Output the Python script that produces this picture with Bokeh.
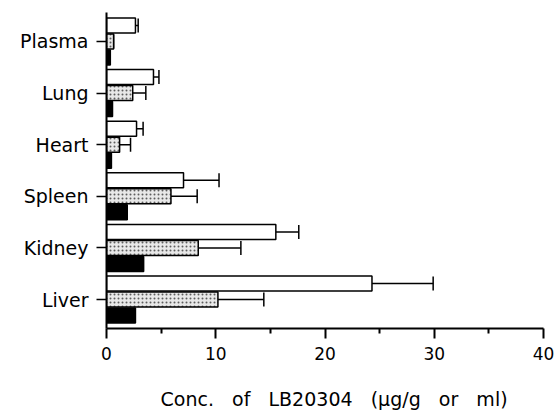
from bokeh.plotting import figure
from bokeh.models import ColumnDataSource, FactorRange, Whisker, TeeHead, Range1d, FixedTicker
from bokeh.transform import dodge
from bokeh.embed import file_html
from bokeh.resources import INLINE

cats = ["Plasma", "Lung", "Heart", "Spleen", "Kidney", "Liver"]
white = [2.65, 4.3, 2.75, 7.05, 15.5, 24.3]
white_err = [0.25, 0.5, 0.6, 3.25, 2.1, 5.6]
dotted = [0.65, 2.4, 1.2, 5.9, 8.4, 10.2]
dotted_err = [0.0, 1.2, 1.0, 2.4, 3.9, 4.2]
black = [0.35, 0.55, 0.45, 1.9, 3.4, 2.65]
x_ticks = [0, 10, 20, 30, 40]

src = ColumnDataSource(dict(
    cat=cats, white=white, black=black, dotted=dotted,
    white_up=[v + e for v, e in zip(white, white_err)],
    dotted_up=[v + e for v, e in zip(dotted, dotted_err)],
))

yr = FactorRange(factors=list(reversed(cats)), range_padding=0.06, range_padding_units="absolute")
p = figure(width=556, height=412, y_range=yr, x_range=Range1d(0, 40),
           output_backend="svg", toolbar_location=None,
           min_border_left=106, min_border_right=13, min_border_top=12, min_border_bottom=83)
p.outline_line_color = None
p.grid.grid_line_color = None
p.background_fill_color = "white"

off, h = 0.31, 0.29
p.hbar(y=dodge("cat", off, range=p.y_range), right="white", left=0, height=h, source=src,
       fill_color="white", line_color="black", line_width=1.5)
p.hbar(y=dodge("cat", 0.0, range=p.y_range), right="dotted", left=0, height=h, source=src,
       fill_color="#e8e8e8", line_color="black", line_width=1.5,
       hatch_pattern="dot", hatch_color="black", hatch_scale=4, hatch_weight=1, hatch_alpha=0.6)
p.hbar(y=dodge("cat", -off, range=p.y_range), right="black", left=0, height=h, source=src,
       fill_color="black", line_color="black", line_width=1.5)

for base_off, lo, up in [(off, "white", "white_up"), (0.0, "dotted", "dotted_up")]:
    w = Whisker(base=dodge("cat", base_off, range=p.y_range), lower=lo, upper=up,
                dimension="width", source=src, line_color="black", line_width=1.5,
                lower_head=None, upper_head=TeeHead(size=14, line_width=1.5, line_color="black"))
    p.add_layout(w)

font = "DejaVu Sans"
xa = p.xaxis[0]
xa.ticker = FixedTicker(ticks=x_ticks, minor_ticks=[5, 15, 25, 35])
xa.axis_label = "\u00a0\u00a0\u00a0Conc.\u00a0\u00a0 of\u00a0\u00a0 LB20304\u00a0\u00a0 (µg/g\u00a0\u00a0 or\u00a0\u00a0 ml)"
xa.axis_label_text_font = font
xa.axis_label_text_font_size = "19px"
xa.axis_label_text_font_style = "normal"
xa.axis_label_text_color = "black"
xa.axis_label_standoff = 25
xa.major_label_text_font = font
xa.major_label_text_font_size = "17px"
xa.major_label_text_color = "black"
xa.major_label_standoff = 8
xa.major_tick_out = 10
xa.major_tick_in = 0
xa.minor_tick_out = 5
xa.minor_tick_in = 0
xa.axis_line_width = 2
xa.major_tick_line_width = 2
xa.minor_tick_line_width = 2

ya = p.yaxis[0]
ya.major_label_text_font = font
ya.major_label_text_font_size = "19px"
ya.major_label_text_color = "black"
ya.major_label_standoff = 8
ya.major_tick_out = 10
ya.major_tick_in = 0
ya.axis_line_width = 2
ya.major_tick_line_width = 1.5

open("out.html", "w").write(file_html(p, INLINE))
